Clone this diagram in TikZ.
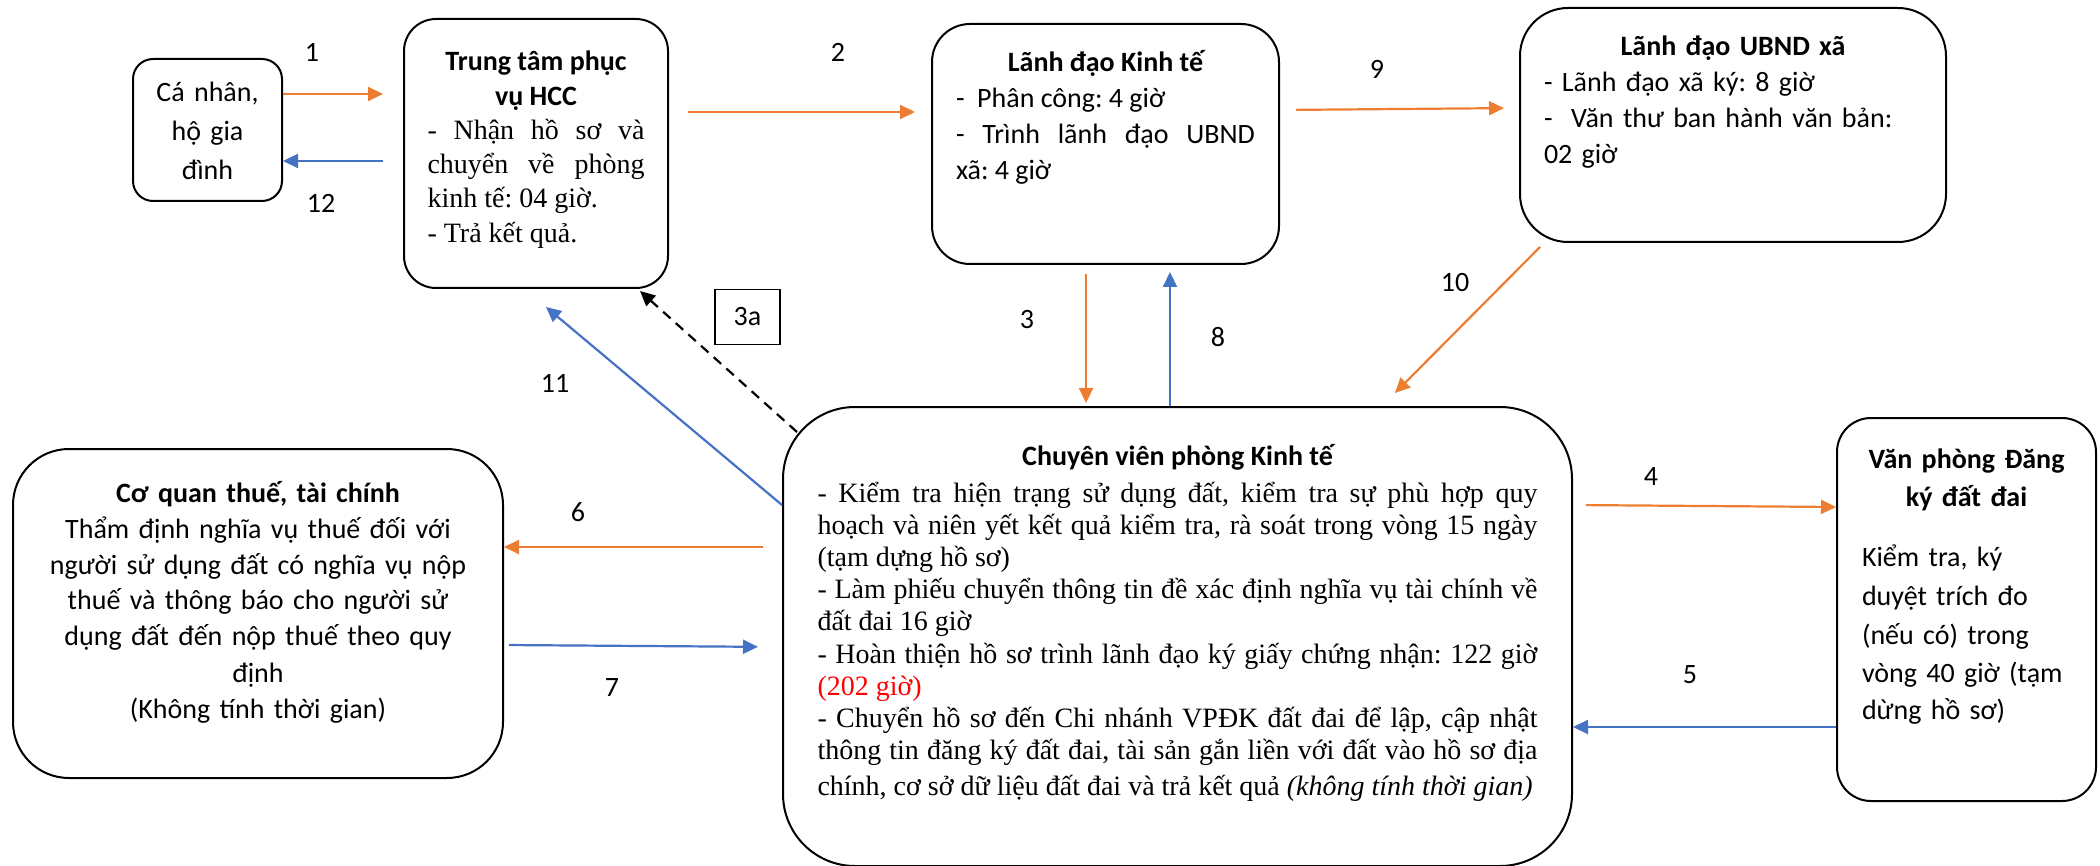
\documentclass[tikz,border=0pt]{standalone}
\usepackage{fontspec}
\setmainfont{Liberation Serif}
\setsansfont{Carlito}
\usepackage{tikz}
\usetikzlibrary{arrows.meta}
\definecolor{orangeline}{HTML}{ED7D31}
\definecolor{blueline}{HTML}{4472C4}
\frenchspacing
\hyphenpenalty=10000
\exhyphenpenalty=10000
\hbadness=10000
\hfuzz=10pt
\newcommand{\fullline}[1]{\makebox[\linewidth][s]{#1}\par}
\tikzstyle{box} = [rectangle, 
draw=black, 
line width=1pt,
anchor=north,
inner ysep=0pt,
font=\sffamily\fontsize{14}{18}\selectfont]
\tikzstyle{num} = [font=\sffamily\fontsize{14}{17}\selectfont]
\tikzstyle{toarrow} = [->, draw=orangeline, line width=1.1pt]
\tikzstyle{backarrow} = [->, draw=blueline, line width=1.1pt]
\tikzstyle{dasharrow} = [->, draw=black, line width=1.1pt, dash pattern=on 5pt off 3.5pt]

\begin{document}
\begin{tikzpicture}[x=0.5pt, y=-0.5pt,
    >={Triangle[length=7.5pt,width=7pt]}
    ]
    \useasboundingbox (0,0) rectangle (2100,866);

    \node (canhan) [box, rounded corners=10pt, align=center, text width=60pt, inner xsep=7.25pt,
        text height=21.5pt, text depth=49.5pt, font=\sffamily\fontsize{14}{19.5}\selectfont]
        at (207.5,58) {Cá nhân,\\ hộ gia\\ đình};

    \node (ttpv) [box, rounded corners=16pt, align=justify, text width=108.5pt, inner xsep=11.75pt,
        text height=26pt, text depth=108.5pt, font=\sffamily\fontsize{14}{17.5}\selectfont]
        at (536,18) {{\centering\bfseries Trung tâm phục\\ vụ HCC\par}
        \rmfamily\fontsize{14}{17}\selectfont
        - Nhận hồ sơ và\linebreak chuyển về phòng\linebreak kinh tế: 04 giờ.\par
        - Trả kết quả.};

    \node (ldkt) [box, rounded corners=19pt, align=justify, text width=149.5pt, inner xsep=12pt,
        text height=24pt, text depth=96pt]
        at (1105.5,23) {{\centering\bfseries Lãnh đạo Kinh tế\par}
        -\ \ Phân công: 4 giờ\par
        - Trình lãnh đạo UBND\linebreak xã: 4 giờ};

    \node (ubnd) [box, rounded corners=24pt, align=left, text width=189pt, inner xsep=12pt,
        text height=24pt, text depth=93pt]
        at (1733,7) {{\centering\bfseries Lãnh đạo UBND xã\par}
        - Lãnh đạo xã ký: 8 giờ\\
        -\ \ Văn thư ban hành văn bản:\\ 02 giờ};

    \node (cqt) [box, rounded corners=28pt, align=center, text width=225pt, inner xsep=10pt,
        text height=26.5pt, text depth=138pt]
        at (258,448) {\textbf{Cơ quan thuế, tài chính}\\ Thẩm định nghĩa vụ thuế đối với\\
        người sử dụng đất có nghĩa vụ nộp\\ thuế và thông báo cho người sử\\
        dụng đất đến nộp thuế theo quy\\ định\\ (Không tính thời gian)};

    \node (cvkt) [box, rounded corners=36pt, align=justify, text width=360pt, inner xsep=17.25pt,
        text height=29.5pt, text depth=200pt]
        at (1177.5,406) {{\centering\bfseries Chuyên viên phòng Kinh tế\par}
        \vspace{2pt}\rmfamily\fontsize{14}{16.1}\selectfont
        \fullline{- Kiểm tra hiện trạng sử dụng đất, kiểm tra sự phù hợp quy}
        \fullline{hoạch và niên yết kết quả kiểm tra, rà soát trong vòng 15 ngày}
        (tạm dựng hồ sơ)\par
        \fullline{- Làm phiếu chuyển thông tin đề xác định nghĩa vụ tài chính về}
        đất đai 16 giờ\par
        \fullline{- Hoàn thiện hồ sơ trình lãnh đạo ký giấy chứng nhận: 122 giờ}
        \textcolor{red}{(202 giờ)}\par
        \fullline{- Chuyển hồ sơ đến Chi nhánh VPĐK đất đai để lập, cập nhật}
        \fullline{thông tin đăng ký đất đai, tài sản gắn liền với đất vào hồ sơ địa}
        \makebox[\linewidth][l]{chính, cơ sở dữ liệu đất đai và trả kết quả \textit{(không tính thời gian)}}};

    \node (vpdk) [box, rounded corners=17pt, align=left, text width=104.5pt, inner xsep=12.5pt,
        text height=25pt, text depth=166.5pt]
        at (1966.5,417) {{\centering\bfseries\fontsize{14}{19}\selectfont Văn phòng Đăng\\ ký đất đai\par}
        \vspace{10.5pt}\fontsize{14}{19.5}\selectfont
        Kiểm tra, ký\\ duyệt trích đo\\ (nếu có) trong\\ vòng 40 giờ (tạm\\ dừng hồ sơ)};

    % step numbers
    \node (n1) [num] at (312,52) {1};
    \node (n12) [num] at (321,203) {12};
    \node (n2) [num] at (838,52) {2};
    \node (n9) [num] at (1377,69) {9};
    \node (n3) [num] at (1027,320) {3};
    \node (n8) [num] at (1218,337) {8};
    \node (n10) [num] at (1455,283) {10};
    \node (n11) [num] at (555,383) {11};
    \node (n6) [num] at (578,512) {6};
    \node (n7) [num] at (612,688) {7};
    \node (n4) [num] at (1651,477) {4};
    \node (n5) [num] at (1690,675) {5};
    \node (n3a) [num, draw, line width=0.8pt, minimum width=32.5pt, minimum height=27.5pt, inner sep=0pt] at (747.5,317) {3a};

    % arrows
    \draw[toarrow, shorten >=10pt] (canhan.east |- 0,94) -- (ttpv.west |- 0,94);
    \draw[backarrow, shorten <=10pt] (ttpv.west |- 0,161) -- (canhan.east |- 0,161);
    \draw[toarrow, shorten <=9.5pt, shorten >=8pt] (ttpv.east |- 0,112) -- (ldkt.west |- 0,112);
    \draw[toarrow, shorten <=8pt, shorten >=7.5pt] (ldkt.east |- 0,110) -- (ubnd.west |- 0,108);
    \draw[toarrow, shorten <=4.5pt, shorten >=1.5pt] (ldkt.south -| 1086,0) -- (cvkt.north -| 1086,0);
    \draw[backarrow, shorten >=3.5pt] (cvkt.north -| 1170,0) -- (ldkt.south -| 1170,0);
    \draw[toarrow] ([xshift=10.5pt,yshift=-2pt]ubnd.south west) -- ([xshift=108.75pt,yshift=6.5pt]cvkt.north);
    \draw[dasharrow] ([xshift=7.5pt,yshift=-13pt]cvkt.north west) -- ([xshift=-14.5pt,yshift=-1pt]ttpv.south east);
    \draw[backarrow] (cvkt.west |- 0,505) -- ([xshift=5pt,yshift=-9pt]ttpv.south);
    \draw[toarrow, shorten <=9.5pt] (cvkt.west |- 0,547) -- (cqt.east |- 0,547);
    \draw[backarrow, shorten <=2.5pt, shorten >=12pt] (cqt.east |- 0,645) -- (cvkt.west |- 0,647);
    \draw[toarrow, shorten <=6.5pt] (cvkt.east |- 0,505) -- (vpdk.west |- 0,507);
    \draw[backarrow] (vpdk.west |- 0,727) -- (cvkt.east |- 0,727);

\end{tikzpicture}
\end{document}
